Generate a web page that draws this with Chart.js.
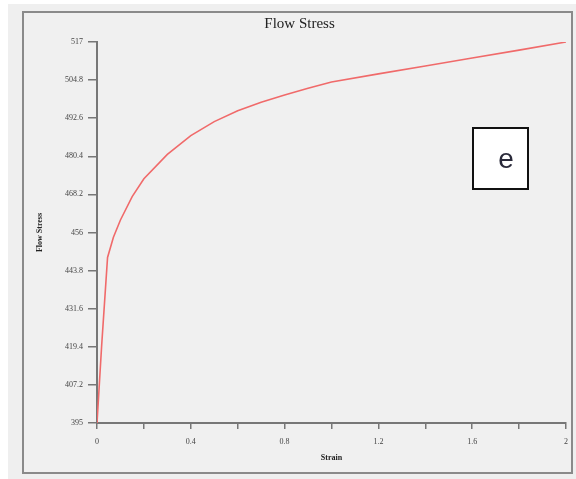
<!DOCTYPE html>
<html lang="en">
<head>
  <meta charset="UTF-8">
  <title>Flow Stress</title>
  <script src="https://cdn.jsdelivr.net/npm/chart.js"></script>
  <style>
    body { margin: 0; background: #fff; }
    canvas { display: block; }
  </style>
</head>
<body>
  <canvas id="flowChart" width="576" height="479"></canvas>

  <script>
    // strain / flow stress
    const strain = [0, 0.02, 0.045, 0.07, 0.1, 0.15, 0.2, 0.3, 0.4, 0.5, 0.6, 0.7, 0.8, 0.9, 1.0, 1.2, 1.4, 1.6, 1.8, 2.0];
    const flowStress = [395, 420, 448, 454.5, 460, 467.5, 473.2, 481, 487, 491.5, 495, 497.7, 500, 502.2, 504.2, 506.8, 509.3, 511.9, 514.4, 517];

    const yTicks = [395, 407.2, 419.4, 431.6, 443.8, 456, 468.2, 480.4, 492.6, 504.8, 517];
    const xTicks = [0, 0.2, 0.4, 0.6, 0.8, 1.0, 1.2, 1.4, 1.6, 1.8, 2.0];
    const xTickLabels = ['0', '', '0.4', '', '0.8', '', '1.2', '', '1.6', '', '2'];

    const serif = "'Liberation Serif', 'DejaVu Serif', serif";

    // window frame + the "e" tag
    const framePlugin = {
      id: 'frame',
      beforeDraw(chart) {
        const c = chart.ctx;
        c.save();
        c.fillStyle = '#ffffff';
        c.fillRect(0, 0, chart.width, chart.height);
        c.fillStyle = '#efefef';
        c.fillRect(8, 4, chart.width - 8, chart.height - 4);
        c.fillStyle = '#f0f0f0';
        c.fillRect(23, 12, 549, 461);
        c.strokeStyle = '#8a8a8a';
        c.lineWidth = 2;
        c.strokeRect(23, 12, 549, 461);
        c.restore();
      },
      afterDraw(chart) {
        const c = chart.ctx;
        c.save();
        c.fillStyle = '#ffffff';
        c.fillRect(473, 128, 55, 61);
        c.strokeStyle = '#111';
        c.lineWidth = 2;
        c.strokeRect(473, 128, 55, 61);
        c.fillStyle = '#2a2a3a';
        c.font = "28px 'Liberation Sans', Arial, sans-serif";
        c.textAlign = 'center';
        c.textBaseline = 'middle';
        c.fillText('e', 506, 160);
        c.restore();
      }
    };

    new Chart(document.getElementById('flowChart'), {
      type: 'line',
      data: {
        datasets: [{
          label: 'Flow Stress',
          data: strain.map((s, i) => ({ x: s, y: flowStress[i] })),
          borderColor: '#f06a6a',
          borderWidth: 1.6,
          pointRadius: 0,
          tension: 0,
          fill: false
        }]
      },
      options: {
        responsive: false,
        animation: false,
        layout: { padding: { left: 30, right: 7, top: 0, bottom: 14 } },
        plugins: {
          legend: { display: false },
          tooltip: { enabled: false },
          title: {
            display: true,
            text: 'Flow Stress',
            color: '#222',
            font: { family: serif, size: 15, weight: 'normal' },
            padding: { top: 15, bottom: 9 }
          }
        },
        scales: {
          x: {
            type: 'linear',
            min: 0,
            max: 2,
            afterBuildTicks: s => { s.ticks = xTicks.map(v => ({ value: v })); },
            afterFit: s => { s.height = 42; },
            ticks: {
              autoSkip: false,
              maxRotation: 0,
              padding: 8,
              color: '#444',
              font: { family: serif, size: 8 },
              callback: (v, i) => xTickLabels[i]
            },
            grid: { drawOnChartArea: false, drawTicks: true, tickLength: 6, color: '#777', lineWidth: 1.5 },
            border: { display: true, color: '#777', width: 2 },
            title: {
              display: true,
              text: 'Strain',
              color: '#222',
              font: { family: serif, size: 8, weight: 'bold' },
              padding: { top: 4, bottom: 2 }
            }
          },
          y: {
            min: 395,
            max: 517,
            afterBuildTicks: s => { s.ticks = yTicks.map(v => ({ value: v })); },
            afterFit: s => { s.width = 67; },
            ticks: {
              autoSkip: false,
              padding: 5,
              color: '#444',
              font: { family: serif, size: 8 },
              callback: v => String(v)
            },
            grid: { drawOnChartArea: false, drawTicks: true, tickLength: 9, color: '#777', lineWidth: 1.5 },
            border: { display: true, color: '#777', width: 2 },
            title: {
              display: true,
              text: 'Flow Stress',
              color: '#222',
              font: { family: serif, size: 8, weight: 'bold' },
              padding: { top: 5, bottom: 2 }
            }
          }
        }
      },
      plugins: [framePlugin]
    });
  </script>
</body>
</html>
